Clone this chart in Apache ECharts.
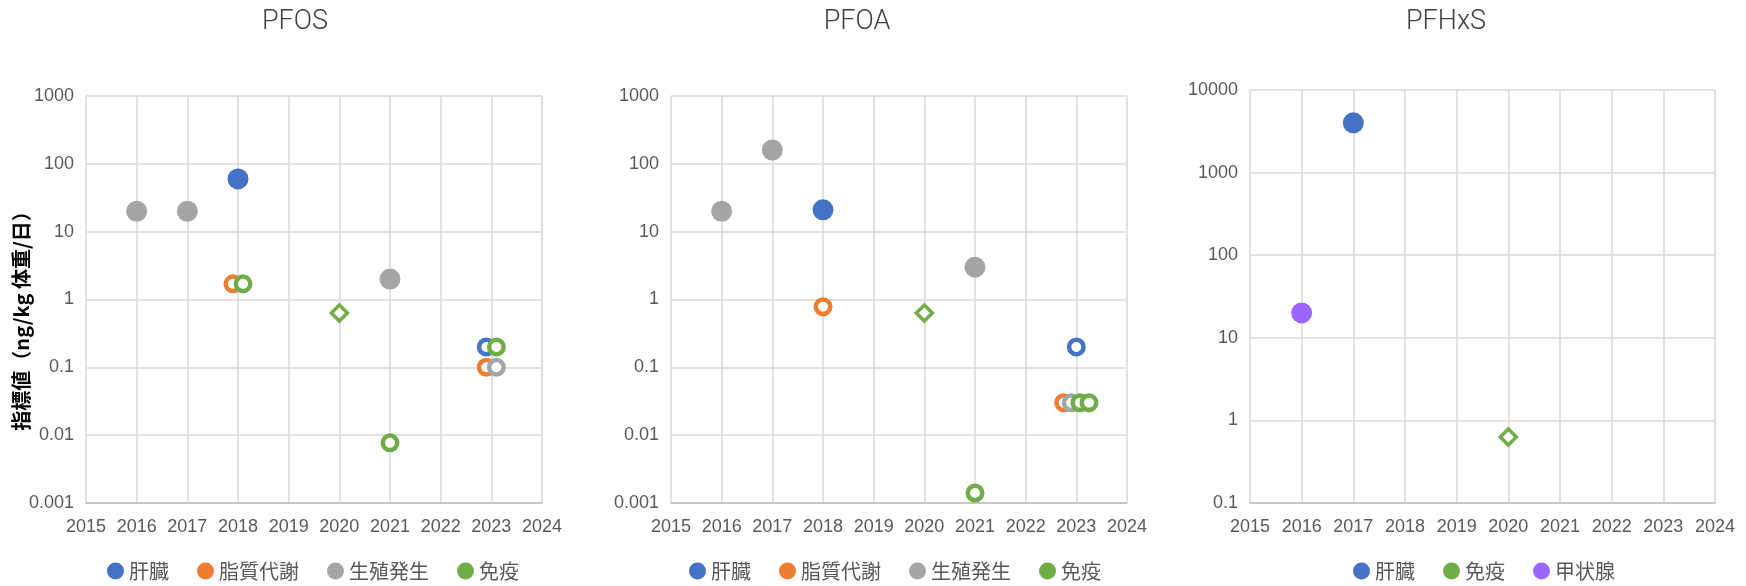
<!DOCTYPE html>
<html>
<head>
<meta charset="utf-8">
<script src="https://cdn.jsdelivr.net/npm/echarts@6/dist/echarts.min.js"></script>
<style>
  html, body { margin: 0; padding: 0; background: #fff; }
  #chart { width: 1746px; height: 586px; }
</style>
</head>
<body>
<div id="chart"></div>
<script>
// panel titles and categories
const panelTitles = ['PFOS', 'PFOA', 'PFHxS'];
const legendNames = [
    ['肝臓', '脂質代謝', '生殖発生', '免疫'],
    ['肝臓', '脂質代謝', '生殖発生', '免疫'],
    ['肝臓', '免疫', '甲状腺']
];
const yAxisTitle = '指標値（ng/kg 体重/日）';

// x ticks (years), y ticks (log)
const xMin = 2015;
const xMax = 2024;
const yTicksPfos = ['0.001', '0.01', '0.1', '1', '10', '100', '1000'];
const yTicksPfoa = ['0.001', '0.01', '0.1', '1', '10', '100', '1000'];
const yTicksPfhxs = ['0.1', '1', '10', '100', '1000', '10000'];

// PFOS  [year, value]
const pfosLiverFilled = [[2018, 60]];
const pfosLiverOpen = [[2022.9, 0.2]];
const pfosLipidOpen = [[2017.9, 1.7], [2022.9, 0.1]];
const pfosReproFilled = [[2016, 20], [2017, 20], [2021, 2]];
const pfosReproOpen = [[2023.1, 0.1]];
const pfosImmuneOpen = [[2018.1, 1.7], [2021, 0.0077], [2023.1, 0.2]];
const pfosImmuneDiamond = [[2020, 0.63]];

// PFOA
const pfoaLiverFilled = [[2018, 21]];
const pfoaLiverOpen = [[2023, 0.2]];
const pfoaLipidOpen = [[2018, 0.78], [2022.75, 0.03]];
const pfoaReproFilled = [[2016, 20], [2017, 160], [2021, 3]];
const pfoaReproOpen = [[2022.9, 0.03]];
const pfoaImmuneOpen = [[2021, 0.0014], [2023.07, 0.03], [2023.25, 0.03]];
const pfoaImmuneDiamond = [[2020, 0.63]];

// PFHxS
const pfhxsLiverFilled = [[2017, 4000]];
const pfhxsImmuneDiamond = [[2020, 0.63]];
const pfhxsThyroidFilled = [[2016, 20]];

const colors = {
    '肝臓': '#4472c4',
    '脂質代謝': '#ed7d31',
    '生殖発生': '#a5a5a5',
    '免疫': '#70ad47',
    '甲状腺': '#9966ff'
};
const labelColor = '#595959';
const gridColor = '#d9d9d9';

const chart = echarts.init(document.getElementById('chart'));

const grids = [
    {left: 86, top: 96, width: 456, height: 407},
    {left: 671, top: 96, width: 456, height: 407},
    {left: 1250, top: 90, width: 465, height: 413}
];
const yTickSets = [yTicksPfos, yTicksPfoa, yTicksPfhxs];
const yRanges = [[0.001, 1000], [0.001, 1000], [0.1, 10000]];

function xAxisFor(i) {
    return {
        type: 'value', gridIndex: i, min: xMin, max: xMax, interval: 1,
        axisLine: {show: true, onZero: false, lineStyle: {color: '#bfbfbf', width: 1.5}},
        axisTick: {show: false},
        axisLabel: {color: labelColor, fontSize: 18, fontFamily: 'Liberation Sans', margin: 15,
            formatter: v => String(Math.round(v))},
        splitLine: {show: true, lineStyle: {color: gridColor, width: 1.5}}
    };
}

function yAxisFor(i) {
    const ticks = yTickSets[i];
    const minExp = Math.round(Math.log10(yRanges[i][0]));
    return {
        type: 'log', logBase: 10, gridIndex: i, min: yRanges[i][0], max: yRanges[i][1],
        axisLine: {show: false},
        axisTick: {show: false},
        axisLabel: {color: labelColor, fontSize: 18, fontFamily: 'Liberation Sans', margin: 12,
            formatter: v => ticks[Math.round(Math.log10(v)) - minExp]},
        splitLine: {show: true, lineStyle: {color: gridColor, width: 1.5}}
    };
}

function filled(name, i, data) {
    return {
        name: name, type: 'scatter', xAxisIndex: i, yAxisIndex: i, data: data,
        symbol: 'circle', symbolSize: 21,
        itemStyle: {color: colors[name], opacity: 1}
    };
}
function open(name, i, data) {
    return {
        name: name, type: 'scatter', xAxisIndex: i, yAxisIndex: i, data: data,
        symbol: 'circle', symbolSize: 14.5,
        itemStyle: {color: '#fff', borderColor: colors[name], borderWidth: 4.5, opacity: 1}
    };
}
function diamond(name, i, data) {
    return {
        name: name, type: 'scatter', xAxisIndex: i, yAxisIndex: i, data: data,
        symbol: 'diamond', symbolSize: 16,
        itemStyle: {color: '#fff', borderColor: colors[name], borderWidth: 3.5, opacity: 1}
    };
}

const series = [
    filled('肝臓', 0, pfosLiverFilled),
    open('肝臓', 0, pfosLiverOpen),
    open('脂質代謝', 0, pfosLipidOpen),
    filled('生殖発生', 0, pfosReproFilled),
    open('生殖発生', 0, pfosReproOpen),
    open('免疫', 0, pfosImmuneOpen),
    diamond('免疫', 0, pfosImmuneDiamond),

    filled('肝臓', 1, pfoaLiverFilled),
    open('肝臓', 1, pfoaLiverOpen),
    open('脂質代謝', 1, pfoaLipidOpen),
    filled('生殖発生', 1, pfoaReproFilled),
    open('生殖発生', 1, pfoaReproOpen),
    open('免疫', 1, pfoaImmuneOpen),
    diamond('免疫', 1, pfoaImmuneDiamond),

    filled('肝臓', 2, pfhxsLiverFilled),
    diamond('免疫', 2, pfhxsImmuneDiamond),
    filled('甲状腺', 2, pfhxsThyroidFilled)
];

const legendLeft = [102, 684, 1348];
const legends = legendNames.map((names, i) => ({
    left: legendLeft[i], top: 556, orient: 'horizontal',
    icon: 'circle', itemWidth: 17, itemHeight: 17, itemGap: 28,
    textStyle: {color: labelColor, fontSize: 20, fontFamily: 'Noto Sans CJK JP', padding: [0, 0, 0, 0]},
    data: names.map(n => ({name: n, itemStyle: {color: colors[n], borderWidth: 0}}))
}));

const titleCenters = [295, 857, 1446];
const graphics = panelTitles.map((t, i) => ({
    type: 'text', x: titleCenters[i], y: 22,
    style: {text: t, align: 'center', verticalAlign: 'middle',
        fontSize: 27, fontFamily: 'Roboto', fontWeight: 300, fill: '#404040'}
}));
graphics.push({
    type: 'text', x: 21, y: 316, rotation: Math.PI / 2,
    style: {text: yAxisTitle, align: 'center', verticalAlign: 'middle',
        fontSize: 20, fontWeight: 'bold', fontFamily: 'Noto Sans CJK JP', fill: '#000'}
});

const option = {
    animation: false,
    backgroundColor: '#fff',
    grid: grids,
    xAxis: [xAxisFor(0), xAxisFor(1), xAxisFor(2)],
    yAxis: [yAxisFor(0), yAxisFor(1), yAxisFor(2)],
    legend: legends,
    graphic: graphics,
    series: series
};

chart.setOption(option);

window.addEventListener('resize', function () {
    chart.resize();
});
</script>
</body>
</html>
